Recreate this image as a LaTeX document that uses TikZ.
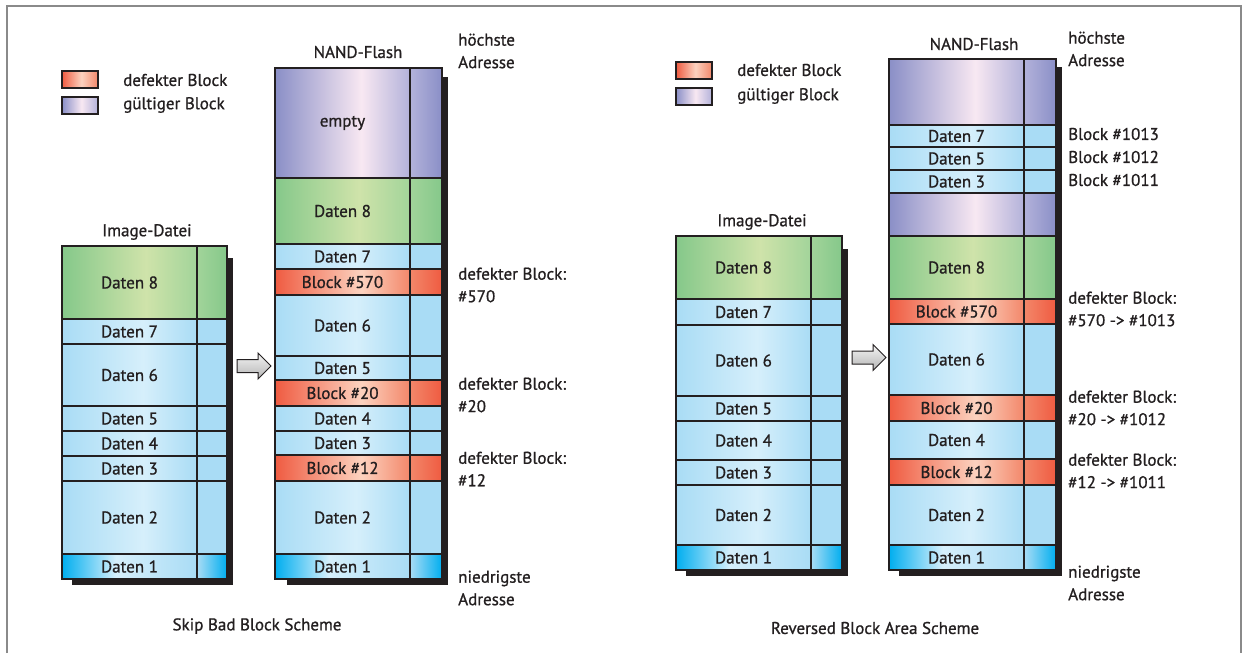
\documentclass[tikz,border=0pt]{standalone}
\usepackage{fontspec}
\setmainfont{PT Sans}[BoldFont={PT Sans}, BoldFeatures={FakeBold=0.9}]

\definecolor{ink}{HTML}{231F20}
\definecolor{frame}{HTML}{8A8A8A}
\definecolor{bE}{HTML}{A9DCF5}
\definecolor{bL}{HTML}{D6EFFB}
\definecolor{cE}{HTML}{00AEEF}
\definecolor{gE}{HTML}{85C88A}
\definecolor{gL}{HTML}{CFE3AA}
\definecolor{gR}{HTML}{A2D49A}
\definecolor{rE}{HTML}{EF5B41}
\definecolor{rL}{HTML}{FCD2BF}
\definecolor{rR}{HTML}{F3876A}
\definecolor{pE}{HTML}{8A8FC7}
\definecolor{pL}{HTML}{F8E8F2}
\definecolor{pR}{HTML}{B3B2DA}
\definecolor{aL}{HTML}{F4F4F4}
\definecolor{aD}{HTML}{B4B4B4}

\pgfdeclarehorizontalshading{bluemain}{100bp}{color(0bp)=(bE); color(25bp)=(bE); color(55bp)=(bL); color(75bp)=(bE); color(100bp)=(bE)}
\pgfdeclarehorizontalshading{blueside}{100bp}{color(0bp)=(bE); color(100bp)=(bE)}
\pgfdeclarehorizontalshading{cyanmain}{100bp}{color(0bp)=(cE); color(25bp)=(cE); color(45bp)=(bL); color(75bp)=(bE); color(100bp)=(bE)}
\pgfdeclarehorizontalshading{cyanside}{100bp}{color(0bp)=(bE); color(25bp)=(bE); color(75bp)=(cE); color(100bp)=(cE)}
\pgfdeclarehorizontalshading{greenmain}{100bp}{color(0bp)=(gE); color(25bp)=(gE); color(56bp)=(gL); color(75bp)=(gR); color(100bp)=(gR)}
\pgfdeclarehorizontalshading{greenside}{100bp}{color(0bp)=(gR); color(25bp)=(gR); color(75bp)=(gE); color(100bp)=(gE)}
\pgfdeclarehorizontalshading{redmain}{100bp}{color(0bp)=(rE); color(25bp)=(rE); color(57bp)=(rL); color(75bp)=(rR); color(100bp)=(rR)}
\pgfdeclarehorizontalshading{redside}{100bp}{color(0bp)=(rR); color(25bp)=(rR); color(75bp)=(rE); color(100bp)=(rE)}
\pgfdeclarehorizontalshading{purpmain}{100bp}{color(0bp)=(pE); color(25bp)=(pE); color(57bp)=(pL); color(75bp)=(pR); color(100bp)=(pR)}
\pgfdeclarehorizontalshading{purpside}{100bp}{color(0bp)=(pR); color(25bp)=(pR); color(75bp)=(pE); color(100bp)=(pE)}
\pgfdeclarehorizontalshading{redlegend}{100bp}{color(0bp)=(rE); color(25bp)=(rE); color(52bp)=(rL); color(75bp)=(rR); color(100bp)=(rR)}
\pgfdeclarehorizontalshading{purplegend}{100bp}{color(0bp)=(pE); color(25bp)=(pE); color(52bp)=(pL); color(75bp)=(pR); color(100bp)=(pR)}

\tikzset{
  cellbox/.style={draw=ink, line width=1.3pt, inner sep=0pt, outer sep=0pt, shade, text=ink,
    font=\fontsize{17}{20}\selectfont\bfseries},
  shadowbox/.style={fill=ink, draw=none},
  legendbox/.style={draw=ink, line width=1.3pt, inner sep=0pt, minimum width=36pt, minimum height=17pt, shade},
  lbl/.style={text=ink, inner sep=0pt, font=\fontsize{17}{22.5}\selectfont\bfseries},
  sidelbl/.style={lbl, anchor=west, align=left},
  moveArrow/.style={draw=ink, line width=1pt, top color=aL, bottom color=aD, line join=miter},
}

\newcommand{\cellrow}[8]{%
  \node[cellbox, shading=#7main, minimum width={(#3-#2)*1pt}, minimum height={(#6-#5)*1pt}]
    (#1) at ({(#2+#3)/2},{(#5+#6)/2}) {#8};
  \node[cellbox, shading=#7side, minimum width={(#4-#3)*1pt}, minimum height={(#6-#5)*1pt}]
    (#1s) at ({(#3+#4)/2},{(#5+#6)/2}) {};
}

\begin{document}
\begin{tikzpicture}[x=1pt,y=-1pt]
\useasboundingbox (0,0) rectangle (1244,653);
\fill[white] (0,0) rectangle (1244,653);
\draw[frame, line width=1.8pt] (7,653) -- (7,6) -- (1241,6) -- (1241,653);

% ---------------- left scheme ----------------
\node[legendbox, shading=redlegend] (lrl) at (80,79.5) {};
\node[legendbox, shading=purplegend] (lpl) at (80,105.5) {};
\node[lbl, anchor=west] (lrt) at (123,80) {defekter Block};
\node[lbl, anchor=west] (lpt) at (123,105) {gültiger Block};

% shadows
\fill[shadowbox] (72,258) rectangle (233,585);
\fill[shadowbox] (287,77) rectangle (448,585);

% image column
\cellrow{la8}{62}{197}{227}{246}{319}{green}{Daten 8}
\cellrow{la7}{62}{197}{227}{319}{344}{blue}{Daten 7}
\cellrow{la6}{62}{197}{227}{344}{406}{blue}{Daten 6}
\cellrow{la5}{62}{197}{227}{406}{431}{blue}{Daten 5}
\cellrow{la4}{62}{197}{227}{431}{456}{blue}{Daten 4}
\cellrow{la3}{62}{197}{227}{456}{481}{blue}{Daten 3}
\cellrow{la2}{62}{197}{227}{481}{554}{blue}{Daten 2}
\cellrow{la1}{62}{197}{227}{554}{579}{cyan}{Daten 1}

% NAND column
\cellrow{lbE}{275}{410}{442}{68}{178}{purp}{empty}
\cellrow{lb8}{275}{410}{442}{178}{244}{green}{Daten 8}
\cellrow{lb7}{275}{410}{442}{244}{269}{blue}{Daten 7}
\cellrow{lbX3}{275}{410}{442}{269}{295}{red}{Block \#570}
\cellrow{lb6}{275}{410}{442}{295}{356}{blue}{Daten 6}
\cellrow{lb5}{275}{410}{442}{356}{380}{blue}{Daten 5}
\cellrow{lbX2}{275}{410}{442}{380}{406}{red}{Block \#20}
\cellrow{lb4}{275}{410}{442}{406}{431}{blue}{Daten 4}
\cellrow{lb3}{275}{410}{442}{431}{455}{blue}{Daten 3}
\cellrow{lbX1}{275}{410}{442}{455}{481}{red}{Block \#12}
\cellrow{lb2}{275}{410}{442}{481}{554}{blue}{Daten 2}
\cellrow{lb1}{275}{410}{442}{554}{579}{cyan}{Daten 1}

\node[lbl] (limgt) at (147,232) {Image-Datei};
\node[lbl] (lnandt) at (358,52) {NAND-Flash};
\node[sidelbl] (lhi) at (458,51) {höchste\\Adresse};
\node[sidelbl] (ld3) at (458,285) {defekter Block:\\\#570};
\node[sidelbl] (ld2) at (458,395) {defekter Block:\\\#20};
\node[sidelbl] (ld1) at (458,469) {defekter Block:\\\#12};
\node[sidelbl] (llo) at (458,588) {niedrigste\\Adresse};
\node[lbl] (lcap) at (257,626) {Skip Bad Block Scheme};

\coordinate (lar) at (237,366);
\draw[moveArrow] (lar) ++(0,-6.5) -- ++(21,0) -- ++(0,-6.5) -- ++(13,13) -- ++(-13,13) -- ++(0,-6.5) -- ++(-21,0) -- cycle;

% ---------------- right scheme ----------------
\node[legendbox, shading=redlegend] (rrl) at (694,70.5) {};
\node[legendbox, shading=purplegend] (rpl) at (694,96.5) {};
\node[lbl, anchor=west] (rrt) at (737,70) {defekter Block};
\node[lbl, anchor=west] (rpt) at (737,96) {gültiger Block};

\fill[shadowbox] (686,249) rectangle (848,576);
\fill[shadowbox] (899,67) rectangle (1062,576);

\cellrow{ra8}{676}{811}{842}{236}{299}{green}{Daten 8}
\cellrow{ra7}{676}{811}{842}{299}{325}{blue}{Daten 7}
\cellrow{ra6}{676}{811}{842}{325}{396}{blue}{Daten 6}
\cellrow{ra5}{676}{811}{842}{396}{421}{blue}{Daten 5}
\cellrow{ra4}{676}{811}{842}{421}{460}{blue}{Daten 4}
\cellrow{ra3}{676}{811}{842}{460}{485}{blue}{Daten 3}
\cellrow{ra2}{676}{811}{842}{485}{545}{blue}{Daten 2}
\cellrow{ra1}{676}{811}{842}{545}{570}{cyan}{Daten 1}

\cellrow{rbT}{889}{1024}{1056}{59}{125}{purp}{}
\cellrow{rb7}{889}{1024}{1056}{125}{147}{blue}{Daten 7}
\cellrow{rb5}{889}{1024}{1056}{147}{170}{blue}{Daten 5}
\cellrow{rb3}{889}{1024}{1056}{170}{193}{blue}{Daten 3}
\cellrow{rbM}{889}{1024}{1056}{193}{236}{purp}{}
\cellrow{rb8}{889}{1024}{1056}{236}{299}{green}{Daten 8}
\cellrow{rbX3}{889}{1024}{1056}{299}{324}{red}{Block \#570}
\cellrow{rb6}{889}{1024}{1056}{324}{395}{blue}{Daten 6}
\cellrow{rbX2}{889}{1024}{1056}{395}{421}{red}{Block \#20}
\cellrow{rb4}{889}{1024}{1056}{421}{459}{blue}{Daten 4}
\cellrow{rbX1}{889}{1024}{1056}{459}{485}{red}{Block \#12}
\cellrow{rb2}{889}{1024}{1056}{485}{545}{blue}{Daten 2}
\cellrow{rb1}{889}{1024}{1056}{545}{570}{cyan}{Daten 1}

\node[lbl] (rimgt) at (762,222) {Image-Datei};
\node[lbl] (rnandt) at (974,44) {NAND-Flash};
\node[sidelbl] (rhi) at (1068,49) {höchste\\Adresse};
\node[lbl, anchor=west] (rk3) at (1068,134) {Block \#1013};
\node[lbl, anchor=west] (rk2) at (1068,157) {Block \#1012};
\node[lbl, anchor=west] (rk1) at (1068,180) {Block \#1011};
\node[sidelbl] (rd3) at (1068,309) {defekter Block:\\\#570 -> \#1013};
\node[sidelbl] (rd2) at (1068,408) {defekter Block:\\\#20 -> \#1012};
\node[sidelbl] (rd1) at (1068,471) {defekter Block:\\\#12 -> \#1011};
\node[sidelbl] (rlo) at (1068,583) {niedrigste\\Adresse};
\node[lbl] (rcap) at (875,628) {Reversed Block Area Scheme};

\coordinate (rar) at (852,357.5);
\draw[moveArrow] (rar) ++(0,-6.5) -- ++(21,0) -- ++(0,-6.5) -- ++(13,13) -- ++(-13,13) -- ++(0,-6.5) -- ++(-21,0) -- cycle;
\end{tikzpicture}
\end{document}
